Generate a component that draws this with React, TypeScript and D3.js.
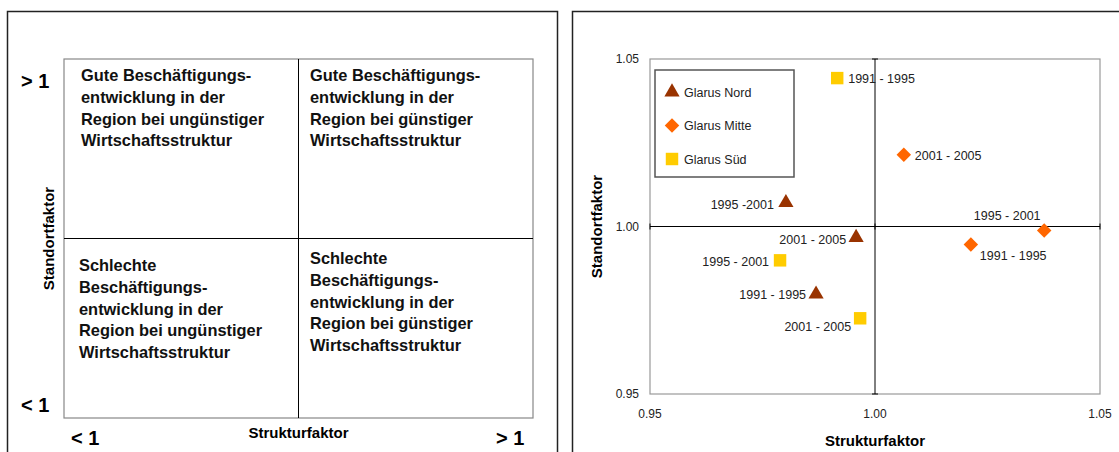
import React from "react";
import * as d3 from "d3";

// ---- data ----
const xTicks = [0.95, 1.0, 1.05];
const yTicks = [0.95, 1.0, 1.05];

const seriesNames = ["Glarus Nord", "Glarus Mitte", "Glarus Süd"];
const seriesColors = ["#993300", "#FF6600", "#FFCC00"];

const nordPeriods = ["1995 -2001", "2001 - 2005", "1991 - 1995"];
const nordX = [0.9802, 0.9958, 0.9869];
const nordY = [1.0071, 0.9967, 0.9798];

const mittePeriods = ["2001 - 2005", "1995 - 2001", "1991 - 1995"];
const mitteX = [1.0064, 1.0376, 1.0213];
const mitteY = [1.0214, 0.9988, 0.9946];

const suedPeriods = ["1991 - 1995", "1995 - 2001", "2001 - 2005"];
const suedX = [0.9916, 0.9789, 0.9967];
const suedY = [1.0443, 0.9899, 0.9726];

const quadrantTexts = [
  ["Gute Beschäftigungs-", "entwicklung in der", "Region bei ungünstiger", "Wirtschaftsstruktur"],
  ["Gute Beschäftigungs-", "entwicklung in der", "Region bei günstiger", "Wirtschaftsstruktur"],
  ["Schlechte", "Beschäftigungs-", "entwicklung in der", "Region bei ungünstiger", "Wirtschaftsstruktur"],
  ["Schlechte", "Beschäftigungs-", "entwicklung in der", "Region bei günstiger", "Wirtschaftsstruktur"],
];

const FONT = "'Liberation Sans', Arial, Helvetica, sans-serif";

// label placement per point: [dx, dy, anchor]
const nordLabelPos: [number, number, string][] = [
  [-12, 2, "end"],
  [-10, 2, "end"],
  [-10, 0, "end"],
];
const mitteLabelPos: [number, number, string][] = [
  [11, 1, "start"],
  [-37, -15, "middle"],
  [9, 11, "start"],
];
const suedLabelPos: [number, number, string][] = [
  [11, 0, "start"],
  [-11, 1, "end"],
  [-9, 8, "end"],
];

const symbols = [
  d3.symbol().type(d3.symbolTriangle).size(100)(),
  d3.symbol().type(d3.symbolSquare).size(105)(),
  d3.symbol().type(d3.symbolSquare).size(155)(),
];
const symbolRot = [0, 45, 0];

export default function App() {
  const W = 1119;
  const H = 452;

  // ---- left panel (schema) ----
  const qx = d3.scaleLinear().domain([0, 2]).range([64, 533]);
  const qy = d3.scaleLinear().domain([0, 2]).range([59, 418]);
  const qMid = [qx(1), qy(1)];
  const qTextPos = [
    { x: 81, y: 81 },
    { x: 310, y: 81 },
    { x: 79, y: 271 },
    { x: 310, y: 264 },
  ];
  const lineH = 21.8;

  // ---- right panel (scatter) ----
  const x = d3.scaleLinear().domain([0.95, 1.05]).range([650, 1100]);
  const y = d3.scaleLinear().domain([0.95, 1.05]).range([394, 59]);
  const fmt = d3.format(".2f");

  const series = [
    { periods: nordPeriods, xs: nordX, ys: nordY, pos: nordLabelPos },
    { periods: mittePeriods, xs: mitteX, ys: mitteY, pos: mitteLabelPos },
    { periods: suedPeriods, xs: suedX, ys: suedY, pos: suedLabelPos },
  ];

  return (
    <div style={{ position: "fixed", left: 0, top: 0, width: W, height: H, background: "#fff" }}>
      <svg width={W} height={H} style={{ display: "block", fontFamily: FONT }}>
        <rect width={W} height={H} fill="#fff" />

        {/* left panel */}
        <rect x={7.5} y={11.5} width={550} height={470} fill="none" stroke="#222" strokeWidth={1.5} />
        <rect
          x={qx(0)}
          y={qy(0)}
          width={qx(2) - qx(0)}
          height={qy(2) - qy(0)}
          fill="none"
          stroke="#888"
          strokeWidth={1.2}
        />
        <line x1={qMid[0]} x2={qMid[0]} y1={qy(0)} y2={qy(2)} stroke="#000" strokeWidth={1} />
        <line x1={qx(0)} x2={qx(2)} y1={qMid[1]} y2={qMid[1]} stroke="#000" strokeWidth={1} />
        {quadrantTexts.map((lines, i) => (
          <text key={i} x={qTextPos[i].x} y={qTextPos[i].y} fontSize={16.4} fontWeight="bold" fill="#111">
            {lines.map((l, j) => (
              <tspan key={j} x={qTextPos[i].x} y={qTextPos[i].y + j * lineH}>
                {l}
              </tspan>
            ))}
          </text>
        ))}
        <text x={21} y={88} fontSize={20} fontWeight="bold">&gt; 1</text>
        <text x={21} y={412} fontSize={20} fontWeight="bold">&lt; 1</text>
        <text x={71} y={445} fontSize={20} fontWeight="bold">&lt; 1</text>
        <text x={496} y={445} fontSize={20} fontWeight="bold">&gt; 1</text>
        <text x={qMid[0]} y={438} fontSize={15} fontWeight="bold" textAnchor="middle">
          Strukturfaktor
        </text>
        <text
          transform={`translate(54,${qMid[1]}) rotate(-90)`}
          fontSize={15}
          fontWeight="bold"
          textAnchor="middle"
        >
          Standortfaktor
        </text>

        {/* right panel */}
        <rect x={572.5} y={11.5} width={600} height={470} fill="none" stroke="#222" strokeWidth={1.5} />
        <rect
          x={x(0.95)}
          y={y(1.05)}
          width={x(1.05) - x(0.95)}
          height={y(0.95) - y(1.05)}
          fill="none"
          stroke="#999"
          strokeWidth={1.2}
        />
        <line x1={x(1)} x2={x(1)} y1={y(1.05)} y2={y(0.95)} stroke="#000" strokeWidth={1} />
        <line x1={x(0.95)} x2={x(1.05)} y1={y(1)} y2={y(1)} stroke="#000" strokeWidth={1} />
        {xTicks.map((t) => (
          <g key={"xt" + t}>
            <line x1={x(t)} x2={x(t)} y1={y(1) - 3} y2={y(1) + 3} stroke="#000" />
            <text x={x(t)} y={418} fontSize={12} textAnchor="middle" fill="#222">
              {fmt(t)}
            </text>
          </g>
        ))}
        {yTicks.map((t) => (
          <g key={"yt" + t}>
            <line x1={x(1) - 3} x2={x(1) + 3} y1={y(t)} y2={y(t)} stroke="#000" />
            <text x={639} y={y(t) + 4} fontSize={12} textAnchor="end" fill="#222">
              {fmt(t)}
            </text>
          </g>
        ))}
        <text x={x(1)} y={446} fontSize={15} fontWeight="bold" textAnchor="middle">
          Strukturfaktor
        </text>
        <text
          transform={`translate(602,${y(1)}) rotate(-90)`}
          fontSize={15}
          fontWeight="bold"
          textAnchor="middle"
        >
          Standortfaktor
        </text>

        {/* legend */}
        <rect x={655} y={70} width={139} height={107} fill="#fff" stroke="#555" strokeWidth={1.5} />
        {seriesNames.map((n, i) => (
          <g key={n} transform={`translate(0,${92 + i * 33.5})`}>
            <path
              d={symbols[i]}
              transform={`translate(672,0) rotate(${symbolRot[i]})`}
              fill={seriesColors[i]}
            />
            <text x={684} y={4.5} fontSize={12.5} fill="#222">
              {n}
            </text>
          </g>
        ))}

        {/* points */}
        {series.map((s, si) =>
          s.xs.map((xv, i) => {
            const px = x(xv);
            const py = y(s.ys[i]);
            const [dx, dy, anchor] = s.pos[i];
            return (
              <g key={si + "-" + i}>
                <path
                  d={symbols[si]}
                  transform={`translate(${px},${py}) rotate(${symbolRot[si]})`}
                  fill={seriesColors[si]}
                />
                <text
                  x={px + dx}
                  y={py + dy + 4.5}
                  fontSize={12.5}
                  textAnchor={anchor}
                  fill="#222"
                >
                  {s.periods[i]}
                </text>
              </g>
            );
          })
        )}
      </svg>
    </div>
  );
}
